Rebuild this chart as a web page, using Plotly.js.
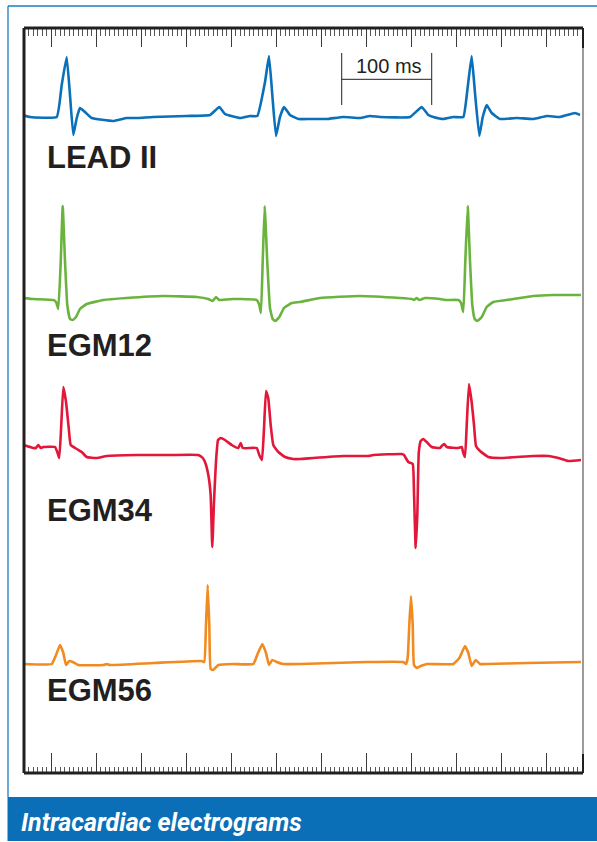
<!DOCTYPE html>
<html>
<head>
<meta charset="utf-8">
<script src="https://cdn.plot.ly/plotly-3.0.1.min.js"></script>
<style>html,body{margin:0;padding:0;background:#fff;}#chart{width:597px;height:842px;}</style>
</head>
<body>
<div id="chart"></div>
<script>
// ---- Data (time in ms, amplitude in arbitrary units relative to each trace's baseline) ----
const leadT = [18.9,26.7,56.3,61.9,67.4,71.1,74.8,78.6,82.2,87.8,95.2,118.9,134.1,145.2,163.3,200.8,226.7,237,243.3,260,271.1,279.2,287.8,292.2,295.9,300,304.4,308.9,315.6,324.8,337.8,356.3,374.8,393.3,404.4,415.6,448.9,461.9,469.2,474.8,485.9,497,508.1,513,517.4,521.1,525.9,529.7,534.1,539.7,548.9,567.4,585.9,600.8,615.6,632.2,637.8];
const leadV = [2,0,0,32,60,22,-18,-1,9,5,-1,-4,-1,-1,0,1,2,10,3,-1,1,1,35,61,22,-19,0,10,2,-2,-2,-2,0,-1,1,0,0,10,2,0,-2,0,0,30,61,24,-19,0,12,4,-2,-1,-2,1,0,4,2];

const egm12T = [19.2,30.3,52.6,55.6,58.1,60.8,63,65.6,68.1,71.1,74.1,77.8,82.2,89.7,108.1,134.1,174.8,211.9,224.8,229.7,233.3,236.7,252.6,260,278.6,281.4,283.3,285.2,287.4,290.3,293.3,296.3,299.2,303.7,308.9,317.4,326.7,348.9,393.3,437.8,450.8,453.3,456.3,459.2,465.6,482.2,489.7,502.6,505.6,508.1,510.3,513,515.6,518.1,520.8,523.7,528.6,534.1,541.4,563.7,585.9,608.1,638.9];
const egm12V = [0,-1,-2,-4,-11,36,92,36,-7,-21,-22,-19,-11,-6,-2,0,2,1,-1,-3,1,-2,-1,-1,-2,-7,-15,36,92,36,-10,-21,-23,-19,-10,-5,-4,0,2,0,-1,-2,0,-2,0,-1,-2,-2,-5,-14,36,92,36,-7,-21,-23,-19,-9,-4,-1,2,3,3];

const egm34T = [19.2,30.3,33.3,35.9,38.6,41.4,54.4,57,59.2,61.4,63.7,66.7,69.7,71.9,78.6,84.1,89.7,100.8,111.9,145.2,182.2,213.7,218.6,221.1,224.8,227.4,229.2,231.1,233.3,235.6,238.6,243.3,250.8,258.1,260.8,263,278.6,281.4,284.4,286.7,288.9,291.4,294.1,297,302.6,310,319.2,326.7,341.4,374.8,402.6,408.1,439.7,442.2,447,451.9,453.3,455.2,457,458.6,460.8,463.7,467.4,473,482.2,484.1,487,489.7,502.6,506.3,508.1,510,511.9,514.4,517.4,520,522.2,526.7,535.9,548.9,585.9,602.6,613.7,624.8,638.9];
const egm34V = [10,7,7,10,7,8,8,3,-3,30,68,53,27,10,6,3,-2,-3,-1,0,0,0,-3,-7,-20,-40,-92,-47,-7,15,17,15,10,7,12,7,7,0,-5,27,64,57,30,10,3,-2,-4,-4,-3,-1,-1,0,1,0,-7,-9,-37,-93,-60,2,14,16,13,8,7,9,11,8,7,8,2,-2,30,71,53,30,9,4,-2,-3,-1,-1,-3,-6,-5];

const egm56T = [19.2,50.8,55.6,60,63.7,66.7,70.3,74.1,80.3,108.1,111.9,115.6,163.7,217.4,220.3,222.2,224.1,225.9,227.4,230.3,235.9,252.6,274.8,280,284.8,288.9,292.2,295.9,300.8,308.1,326.7,363.7,400.8,441.4,444.4,446.3,448.1,450,451.9,453.3,456.3,460.8,467.8,497,503.7,510,513.7,517.4,521.9,526.7,534.1,578.6,638.9];
const egm56V = [0,0,9,19,11,-1,3,2,-1,-1,0,-1,1,3,2,39,79,39,-5,-6,-1,0,0,11,20,11,-1,4,2,0,0,1,2,2,0,6,39,68,39,-1,-4,-2,0,0,6,18,11,-2,4,0,0,1,2];

const traceNames = ["LEAD II","EGM12","EGM34","EGM56"];
const traceColors = ["#0a70b9","#6ab43e","#e2173a","#f18b20"];
const traceBaselinesPx = [117,298,455,664]; // vertical placement of each channel
const captionText = "Intracardiac electrograms";
const scaleBarText = "100 ms";
const scaleBarStart = 373, scaleBarLen = 100;

// ---- Layout geometry ----
const W = 597, H = 842;
const mL = 24, mR = 14, mT = 28, mB = 69;
const plotTop = mT, plotBot = H - mB, plotH = plotBot - plotTop, plotW = W - mL - mR;
const py = p => (plotBot - p) / plotH;   // pixel y -> paper y
const px = p => (p - mL) / plotW;        // pixel x -> paper x
const xRange = [20, 641.1];

const series = [[leadT,leadV],[egm12T,egm12V],[egm34T,egm34V],[egm56T,egm56V]];
const axNames = ['y','y2','y3','y4'];
const data = series.map((s,i)=>({
  type:'scatter', mode:'lines', x:s[0], y:s[1], name:traceNames[i],
  xaxis:'x', yaxis:axNames[i],
  line:{color:traceColors[i], width:2.6, shape:'spline', smoothing:0.35},
  hoverinfo:'skip', showlegend:false
}));
data.push({type:'scatter', mode:'lines', x:[], y:[], xaxis:'x2', yaxis:'y', hoverinfo:'skip', showlegend:false});

const layout = {
  width:W, height:H,
  margin:{l:mL, r:mR, t:mT, b:mB, pad:0},
  paper_bgcolor:'#ffffff', plot_bgcolor:'rgba(0,0,0,0)',
  showlegend:false,
  xaxis:{range:xRange, showgrid:false, zeroline:false, showline:false, showticklabels:false,
    ticks:'inside', tick0:0, dtick:50, ticklen:20, tickwidth:1, tickcolor:'#3a3a3a',
    minor:{ticks:'inside', tick0:0, dtick:5, ticklen:6, tickwidth:1, tickcolor:'#555555', showgrid:false},
    fixedrange:true},
  xaxis2:{range:xRange, overlaying:'x', side:'top', anchor:'y', showgrid:false, zeroline:false, showline:false, showticklabels:false,
    ticks:'inside', tick0:0, dtick:50, ticklen:19, tickwidth:1, tickcolor:'#3a3a3a',
    minor:{ticks:'inside', tick0:0, dtick:5, ticklen:8, tickwidth:1, tickcolor:'#555555', showgrid:false},
    fixedrange:true},
  shapes:[], annotations:[]
};
axNames.forEach((a,i)=>{
  const key = i===0 ? 'yaxis' : 'yaxis'+(i+1);
  const b = traceBaselinesPx[i];
  layout[key] = {range:[b-plotBot, b-plotTop], visible:false, fixedrange:true};
  if(i>0) layout[key].overlaying='y';
});

const dark = '#231f20';
// frame
layout.shapes.push(
  {type:'line', xref:'paper', yref:'paper', x0:px(8), x1:px(W+2), y0:py(6), y1:py(6), line:{color:'#1b7cc4', width:1.3}},
  {type:'line', xref:'paper', yref:'paper', x0:px(8), x1:px(8), y0:py(6), y1:py(797), line:{color:'#1b7cc4', width:1.3}},
  {type:'rect', xref:'paper', yref:'paper', x0:px(7.5), x1:px(W+2), y0:py(797), y1:py(841), fillcolor:'#0a6fb7', line:{width:0}},
  {type:'line', xref:'paper', yref:'paper', x0:1, x1:1, y0:0, y1:1, line:{color:'#9b9b9b', width:2}},
  {type:'line', xref:'paper', yref:'paper', x0:1, x1:1, y0:py(48), y1:1, line:{color:dark, width:2}},
  {type:'line', xref:'paper', yref:'paper', x0:1, x1:1, y0:0, y1:py(754), line:{color:dark, width:2}},
  {type:'line', xref:'paper', yref:'paper', x0:0, x1:1, y0:1, y1:1, line:{color:dark, width:3}},
  {type:'line', xref:'paper', yref:'paper', x0:0, x1:1, y0:0, y1:0, line:{color:dark, width:3}},
  {type:'line', xref:'paper', yref:'paper', x0:0, x1:0, y0:0, y1:1, line:{color:dark, width:3}}
);
// 100 ms scale bar
layout.shapes.push(
  {type:'line', xref:'x', yref:'paper', x0:scaleBarStart, x1:scaleBarStart, y0:py(53), y1:py(105), line:{color:dark, width:1}},
  {type:'line', xref:'x', yref:'paper', x0:scaleBarStart+scaleBarLen, x1:scaleBarStart+scaleBarLen, y0:py(53), y1:py(105), line:{color:dark, width:1}},
  {type:'line', xref:'x', yref:'paper', x0:scaleBarStart, x1:scaleBarStart+scaleBarLen, y0:py(79.3), y1:py(79.3), line:{color:dark, width:1}}
);
layout.annotations.push({xref:'x', yref:'paper', x:scaleBarStart+scaleBarLen/2+2, y:py(66), text:scaleBarText, showarrow:false,
  xanchor:'center', yanchor:'middle', font:{family:'Liberation Sans, Arial, sans-serif', size:20, color:dark}});

// channel labels
const labelCapCentersPx = [155,343.3,508,688.3];
traceNames.forEach((n,i)=>{
  layout.annotations.push({xref:'paper', yref:'paper', x:px(45), y:py(labelCapCentersPx[i]+2), text:n, showarrow:false,
    xanchor:'left', yanchor:'middle', font:{family:'Liberation Sans, Arial, sans-serif', size:31, weight:700, color:dark}});
});
// caption
layout.annotations.push({xref:'paper', yref:'paper', x:px(19), y:py(823), text:'<b><i>'+captionText+'</i></b>', showarrow:false,
  xanchor:'left', yanchor:'middle', font:{family:'Liberation Sans Narrow, Roboto, Arial, sans-serif', size:25, color:'#ffffff'}});

Plotly.newPlot('chart', data, layout, {staticPlot:true, displayModeBar:false});
</script>
</body>
</html>
